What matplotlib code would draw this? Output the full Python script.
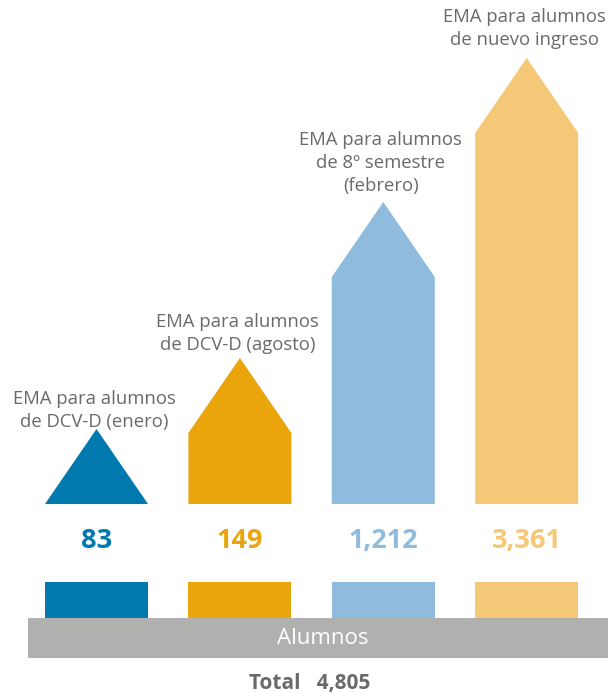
import matplotlib.pyplot as plt
from matplotlib.patches import Polygon, Rectangle

plt.rcParams['font.family'] = ['Open Sans', 'DejaVu Sans']

labels = ['EMA para alumnos\nde DCV-D (enero)',
          'EMA para alumnos\nde DCV-D (agosto)',
          'EMA para alumnos\nde 8º semestre\n(febrero)',
          'EMA para alumnos\nde nuevo ingreso']
values = [83, 149, 1212, 3361]
# visual height of each arrow body (not to scale in the original)
body_heights = [0, 71, 227, 371]
label_gaps = [-2, 4, 7, 9]
colors = ['#0079AF', '#EAA50C', '#8FBCDC', '#F5C878']
total = sum(values)

fig = plt.figure(figsize=(6.08, 6.93), dpi=100)
ax = fig.add_axes([0, 0, 1, 1])
ax.set_xlim(0, 608)
ax.set_ylim(693, 0)
ax.axis('off')

base = 504
roof = 75
width = 103
step = 143.4
grey = '#6A6A6A'

for i, (lab, val, h, g, c) in enumerate(zip(labels, values, body_heights, label_gaps, colors)):
    cx = 96.5 + i * step
    left, right = cx - width / 2, cx + width / 2
    shoulder = base - h
    top = shoulder - roof
    if h > 0:
        pts = [(left, base), (left, shoulder), (cx, top), (right, shoulder), (right, base)]
    else:
        pts = [(left, base), (cx, top), (right, base)]
    ax.add_patch(Polygon(pts, closed=True, color=c, lw=0))
    ax.text(cx - 2.5, top - g, lab, ha='center', va='bottom', fontsize=13.3,
            color=grey, linespacing=1.36)
    ax.text(cx, 541, f'{val:,}', ha='center', va='center', fontsize=19.5,
            fontweight='bold', color=c)
    ax.add_patch(Rectangle((left, 582), width, 36, color=c, lw=0))

ax.add_patch(Rectangle((28, 618), 580, 40, color='#B0B0AE', lw=0))
ax.text(323, 639, 'Alumnos', ha='center', va='center', fontsize=16, color='white')
ax.text(310, 683, f'Total   {total:,}', ha='center', va='center', fontsize=15,
        fontweight='bold', color=grey)

fig.savefig('out.png', dpi=100)
